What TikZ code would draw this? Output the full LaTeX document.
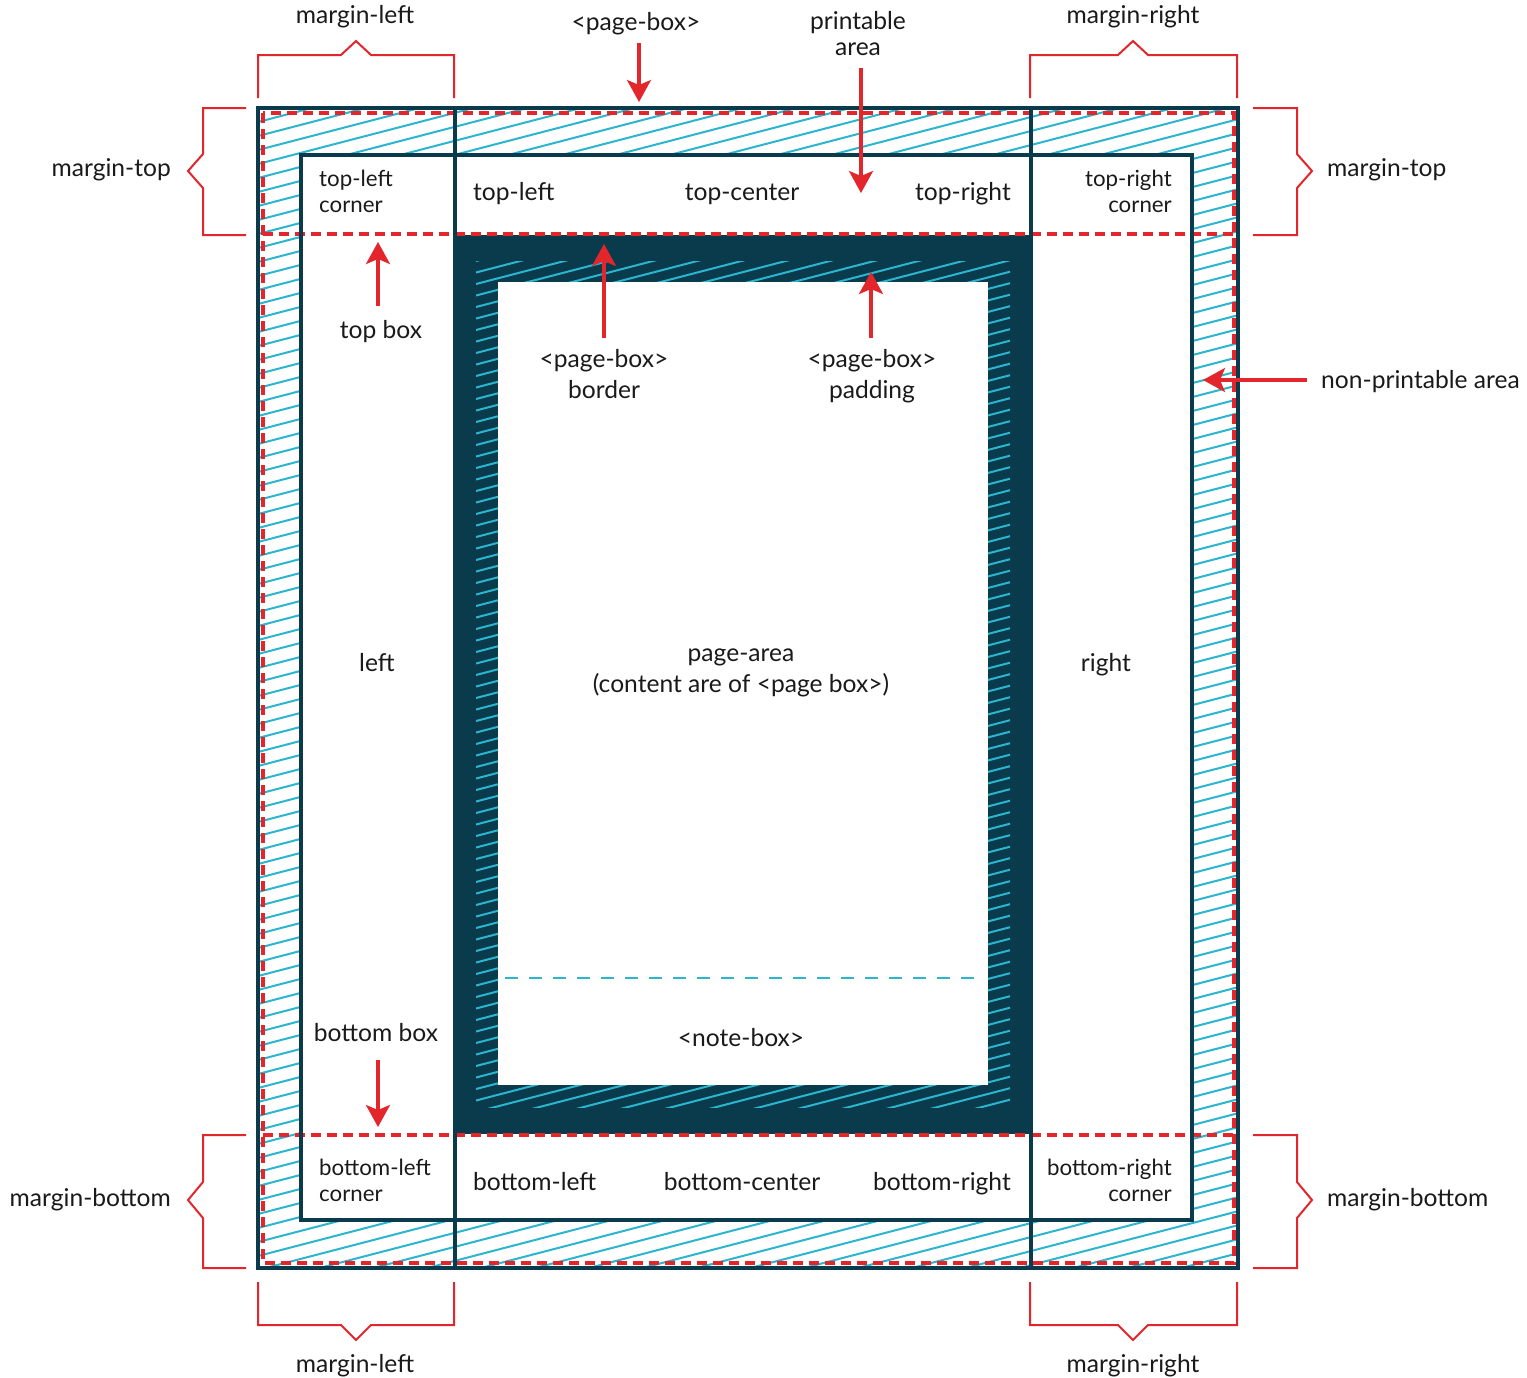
\documentclass[tikz,border=0pt]{standalone}
\usepackage{fontspec}
\setmainfont{Lato}
\usetikzlibrary{arrows.meta}
\definecolor{dk}{HTML}{0A3B4D}
\definecolor{cy}{HTML}{2CB5CF}
\definecolor{rd}{HTML}{E3262B}
\definecolor{tx}{HTML}{1A1A1A}
\begin{document}
\begin{tikzpicture}[x=1pt,y=-1pt,
  lbl/.style={inner sep=0pt, text=tx, font=\fontsize{24.6}{30.5}\selectfont, align=center},
  sml/.style={inner sep=0pt, text=tx, font=\fontsize{22.3}{26}\selectfont},
  brk/.style={draw=rd, line width=2pt},
  rarrow/.style={draw=rd, line width=3.2pt, -{Stealth[length=22pt,width=24pt,inset=5pt]}},
  hatchline/.style={draw=cy, line width=2pt},
  reddash/.style={draw=rd, line width=3.5pt, dash pattern=on 10pt off 6pt},
  darkline/.style={draw=dk, line width=4pt},
]
\useasboundingbox[fill=white] (0,0) rectangle (1527,1377);

% outer hatching (non-printable / margin area)
\begin{scope}
  \clip (258,108) rectangle (1238,1268);
  \foreach \i in {0,...,103} {
    \pgfmathsetmacro\b{108+14*\i}
    \draw[hatchline] (258,\b) -- (1238,\b-254.8);
  }
\end{scope}
\fill[white] (301,155) rectangle (1192,1220);

% page box: border, padding, content
\fill[dk] (455,235) rectangle (1031,1134);
\begin{scope}
  \clip (476,261) rectangle (1010,1107);
  \foreach \i in {0,...,90} {
    \pgfmathsetmacro\b{261+11.5*\i}
    \draw[draw=cy, line width=2pt] (476,\b) -- (1010,\b-138.8);
  }
\end{scope}
\fill[white] (498,282) rectangle (988,1085);
\draw[draw=cy, line width=2.5pt, dash pattern=on 13pt off 11pt] (505,978) -- (982,978);

% red dashed printable area
\draw[reddash] (263,113) rectangle (1234,1263);
\draw[reddash] (263,234) -- (1234,234);
\draw[reddash] (263,1135) -- (1234,1135);

% dark lines
\draw[darkline] (258,108) rectangle (1238,1268);
\draw[darkline] (301,155) rectangle (1192,1220);
\draw[draw=dk, line width=3.5pt] (455,108) -- (455,1268);
\draw[draw=dk, line width=3.5pt] (1031,108) -- (1031,1268);

% brackets
\draw[brk] (258,98) -- (258,55) -- (341,55) -- (356,41) -- (371,55) -- (454,55) -- (454,98);
\draw[brk] (1030,98) -- (1030,55) -- (1118,55) -- (1133,41) -- (1148,55) -- (1237,55) -- (1237,98);
\draw[brk] (258,1282) -- (258,1325) -- (341,1325) -- (356,1340) -- (371,1325) -- (454,1325) -- (454,1282);
\draw[brk] (1030,1282) -- (1030,1325) -- (1118,1325) -- (1133,1340) -- (1148,1325) -- (1237,1325) -- (1237,1282);
\draw[brk] (246,108) -- (203,108) -- (203,154) -- (188,171) -- (203,188) -- (203,235) -- (246,235);
\draw[brk] (1253,108) -- (1297,108) -- (1297,154) -- (1312,171) -- (1297,188) -- (1297,235) -- (1253,235);
\draw[brk] (246,1135) -- (203,1135) -- (203,1182) -- (188,1200) -- (203,1218) -- (203,1268) -- (246,1268);
\draw[brk] (1253,1135) -- (1297,1135) -- (1297,1182) -- (1312,1200) -- (1297,1218) -- (1297,1268) -- (1253,1268);

% outside labels
\node[lbl, anchor=base] (mlt) at (355,23) {margin-left};
\node[lbl, anchor=base] (mrt) at (1133,23) {margin-right};
\node[lbl, anchor=base] (mlb) at (355,1372) {margin-left};
\node[lbl, anchor=base] (mrb) at (1133,1372) {margin-right};
\node[lbl, anchor=base east] (mtl) at (171,176) {margin-top};
\node[lbl, anchor=base west] (mtr) at (1327,176) {margin-top};
\node[lbl, anchor=base east] (mbl) at (171,1206) {margin-bottom};
\node[lbl, anchor=base west] (mbr) at (1327,1206) {margin-bottom};
\node[lbl, anchor=base] (pb) at (636,30) {<page-box>};
\node[lbl, anchor=base, font=\fontsize{24.6}{26}\selectfont] (pa) at (858,55) {printable\\area};
\node[lbl, anchor=base west] (np) at (1321,388) {non-printable area};

% inside labels
\node[sml, anchor=base west, align=left] (tlc) at (319,212) {top-left\\corner};
\node[sml, anchor=base east, align=right] (trc) at (1172,212) {top-right\\corner};
\node[sml, anchor=base west, align=left] (blc) at (319,1201) {bottom-left\\corner};
\node[sml, anchor=base east, align=right] (brc) at (1172,1201) {bottom-right\\corner};
\node[lbl, anchor=base west] (tl) at (473,200) {top-left};
\node[lbl, anchor=base] (tc) at (742,200) {top-center};
\node[lbl, anchor=base east] (tr) at (1011,200) {top-right};
\node[lbl, anchor=base west] (bl) at (473,1190) {bottom-left};
\node[lbl, anchor=base] (bc) at (742,1190) {bottom-center};
\node[lbl, anchor=base east] (br) at (1011,1190) {bottom-right};
\node[lbl, anchor=base] (tb) at (381,338) {top box};
\node[lbl, anchor=base] (bb) at (376,1041) {bottom box};
\node[lbl, anchor=base] (lf) at (377,671) {left};
\node[lbl, anchor=base] (rt) at (1106,671) {right};
\node[lbl, anchor=base] (pbb) at (604,398) {<page-box>\\border};
\node[lbl, anchor=base] (pbp) at (872,398) {<page-box>\\padding};
\node[lbl, anchor=base] (par) at (741,692) {page-area\\(content are of <page box>)};
\node[lbl, anchor=base] (nb) at (741,1046) {<note-box>};

% arrows
\coordinate (pbS) at (639,43);   \coordinate (pbE) at (639,102);
\coordinate (paS) at (861,68);   \coordinate (paE) at (861,193);
\coordinate (npS) at (1307,380); \coordinate (npE) at (1203,380);
\coordinate (tbS) at (378,306);  \coordinate (tbE) at (378,242);
\coordinate (bbS) at (378,1060); \coordinate (bbE) at (378,1127);
\coordinate (pbbS) at (604,338); \coordinate (pbbE) at (604,244);
\coordinate (pbpS) at (871,338); \coordinate (pbpE) at (871,272);
\draw[rarrow] (pbS) -- (pbE);
\draw[rarrow] (paS) -- (paE);
\draw[rarrow] (npS) -- (npE);
\draw[rarrow] (tbS) -- (tbE);
\draw[rarrow] (bbS) -- (bbE);
\draw[rarrow] (pbbS) -- (pbbE);
\draw[rarrow] (pbpS) -- (pbpE);
\end{tikzpicture}
\end{document}
